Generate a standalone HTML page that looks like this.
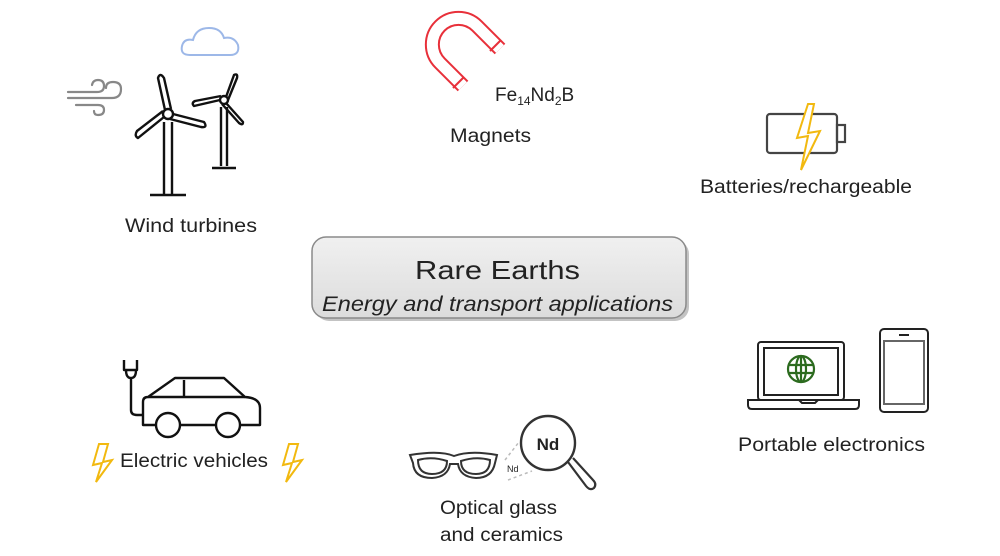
<!DOCTYPE html>
<html><head><meta charset="utf-8"><style>
html,body{margin:0;padding:0;background:#fff;}
svg{display:block;}
text{font-family:"Liberation Sans",sans-serif;fill:#222;}
</style></head><body>
<svg width="1000" height="556" viewBox="0 0 1000 556" xmlns="http://www.w3.org/2000/svg">
<defs>
<linearGradient id="bg" x1="0" y1="0" x2="0" y2="1"><stop offset="0" stop-color="#f0f0f0"/><stop offset="1" stop-color="#dcdcdc"/></linearGradient>
</defs>
<!-- cloud -->
<path d="M190,55 Q180,55 182,46 Q184,38 193,40 Q196,28 209,28 Q221,28 224,38 Q234,36 238,45 Q240,55 230,55 Z" fill="none" stroke="#9db8e8" stroke-width="2"/>
<!-- wind -->
<g fill="none" stroke="#888" stroke-width="2.2" stroke-linecap="round">
<path d="M68,92 H97 Q104,92 104,86 Q104,80 98,80 Q93,80 92,85"/>
<path d="M68,98 H112 Q121,98 121,89 Q121,82 113,82 Q106,82 106,88"/>
<path d="M76,105 H98 Q104,105 104,110 Q104,115 98,115 Q94,115 94,111"/>
</g>
<!-- turbines -->
<g fill="none" stroke="#111" stroke-width="2.4" stroke-linejoin="round">
<line x1="164" y1="122" x2="164" y2="194"/><line x1="172" y1="122" x2="172" y2="194"/>
<line x1="150" y1="195" x2="186" y2="195"/>
<circle cx="168" cy="114" r="5"/>
<path d="M165,110 L158,78 Q160,72 164,78 L171,109"/>
<path d="M164,117 L138,138 Q134,136 137,131 L163,111"/>
<path d="M173,114 L204,122 Q208,128 201,127 L170,119"/>
<line x1="221" y1="107" x2="221" y2="166"/><line x1="227" y1="107" x2="227" y2="166"/>
<line x1="212" y1="168" x2="236" y2="168"/>
<circle cx="224" cy="100" r="4"/>
<path d="M226,97 L234,75 Q238,73 237,78 L228,100"/>
<path d="M220,100 L194,106 Q191,103 195,101 L221,96"/>
<path d="M226,103 L243,122 Q243,126 239,123 L222,104"/>
</g>
<text x="125" y="232" font-size="19" textLength="132" lengthAdjust="spacingAndGlyphs">Wind turbines</text>
<!-- magnet -->
<path d="M500,49 L477,26 A26,26 0 0 0 440,63 L463,86" fill="none" stroke="#e8303a" stroke-width="15" stroke-linejoin="miter"/>
<path d="M500,49 L477,26 A26,26 0 0 0 440,63 L463,86" fill="none" stroke="#fff" stroke-width="11"/>
<line x1="490" y1="51" x2="501" y2="40" stroke="#e8303a" stroke-width="2"/>
<line x1="453" y1="88" x2="464" y2="77" stroke="#e8303a" stroke-width="2"/>
<text x="495" y="101" font-size="19">Fe<tspan font-size="12" dy="4">14</tspan><tspan dy="-4">Nd</tspan><tspan font-size="12" dy="4">2</tspan><tspan dy="-4">B</tspan></text>
<text x="450" y="142" font-size="19" textLength="81" lengthAdjust="spacingAndGlyphs">Magnets</text>
<!-- battery -->
<rect x="767" y="114" width="70" height="39" rx="3" fill="none" stroke="#444" stroke-width="2.2"/>
<rect x="837" y="125" width="8" height="17" fill="none" stroke="#444" stroke-width="2.2"/>
<path d="M808,104 L797,138 L808,136 L801,170 L820,131 L808,133 L814,104 Z" fill="#fff" stroke="#f2b90f" stroke-width="2"/>
<text x="700" y="193" font-size="19" textLength="212" lengthAdjust="spacingAndGlyphs">Batteries/rechargeable</text>
<!-- center box -->
<rect x="315" y="240" width="374" height="81" rx="14" fill="#888" opacity="0.5"/>
<rect x="312" y="237" width="374" height="81" rx="14" fill="url(#bg)" stroke="#8a8a8a" stroke-width="1.5"/>
<text x="415" y="279" font-size="26" textLength="165" lengthAdjust="spacingAndGlyphs">Rare Earths</text>
<text x="322" y="311" font-size="21" font-style="italic" textLength="351" lengthAdjust="spacingAndGlyphs">Energy and transport applications</text>
<!-- car -->
<g fill="none" stroke="#111" stroke-width="2.4" stroke-linejoin="round">
<path d="M124,360 V370 H137 V360 M126,370 Q126,378 131,378 Q136,378 136,370"/>
<path d="M131,378 V410 Q131,415 137,415 H143"/>
<path d="M156,425 H143 V402 Q143,397 148,397 L175,378 H224 L245,397 Q260,398 260,408 V425 H240"/>
<path d="M216,425 H180"/>
<line x1="184" y1="380" x2="184" y2="397"/>
<path d="M148,397 H245"/>
<circle cx="168" cy="425" r="12"/><circle cx="228" cy="425" r="12"/>
</g>
<text x="120" y="467" font-size="19" textLength="148" lengthAdjust="spacingAndGlyphs">Electric vehicles</text>
<g fill="#fff" stroke="#f2b90f" stroke-width="2">
<path d="M99,444 L93,465 L102,463 L96,482 L112,460 L103,462 L108,444 Z"/>
<path d="M289,444 L283,465 L292,463 L286,482 L302,460 L293,462 L298,444 Z"/>
</g>
<!-- laptop / phone -->
<g fill="none" stroke="#222" stroke-width="2">
<rect x="758" y="342" width="86" height="58" rx="3"/>
<rect x="764" y="348" width="74" height="47"/>
<path d="M748,400 H799 L802,403 H815 L818,400 H859 V405 Q859,409 855,409 H752 Q748,409 748,405 Z"/>
<rect x="880" y="329" width="48" height="83" rx="4"/>
<rect x="884" y="341" width="40" height="63" stroke="#666"/>
<line x1="899" y1="335" x2="909" y2="335"/>
</g>
<g fill="none" stroke="#2c6b1f" stroke-width="2.2">
<circle cx="801" cy="369" r="13"/><ellipse cx="801" cy="369" rx="5" ry="13"/>
<line x1="788" y1="365" x2="814" y2="365"/><line x1="788" y1="373" x2="814" y2="373"/><line x1="801" y1="356" x2="801" y2="382"/>
</g>
<text x="738" y="451" font-size="19" textLength="187" lengthAdjust="spacingAndGlyphs">Portable electronics</text>
<!-- glasses & magnifier -->
<g fill="none" stroke="#333" stroke-width="2">
<path d="M410,455 Q440,450 454,456 Q470,450 497,455 L495,463 Q492,478 476,478 Q460,477 458,464 L450,464 Q448,477 432,478 Q414,478 413,463 Z"/>
<path d="M418,460 Q432,456 447,461 Q447,474 432,474 Q418,474 418,460 Z"/>
<path d="M461,461 Q476,456 490,460 Q490,474 476,474 Q461,474 461,461 Z"/>
<circle cx="548" cy="443" r="27" stroke-width="2.4"/>
<path d="M568,462 L586,486 Q590,491 594,488 Q597,484 593,480 L573,458" stroke-width="2.2"/>
</g>
<g stroke="#bbb" stroke-width="1.5" stroke-dasharray="3,3">
<line x1="505" y1="460" x2="519" y2="442"/><line x1="508" y1="480" x2="532" y2="471"/>
</g>
<text x="548" y="450" font-size="17" font-weight="bold" text-anchor="middle">Nd</text>
<text x="507" y="472" font-size="9">Nd</text>
<text x="440" y="514" font-size="19" textLength="117" lengthAdjust="spacingAndGlyphs">Optical glass</text>
<text x="440" y="541" font-size="19" textLength="123" lengthAdjust="spacingAndGlyphs">and ceramics</text>
</svg>
</body></html>
